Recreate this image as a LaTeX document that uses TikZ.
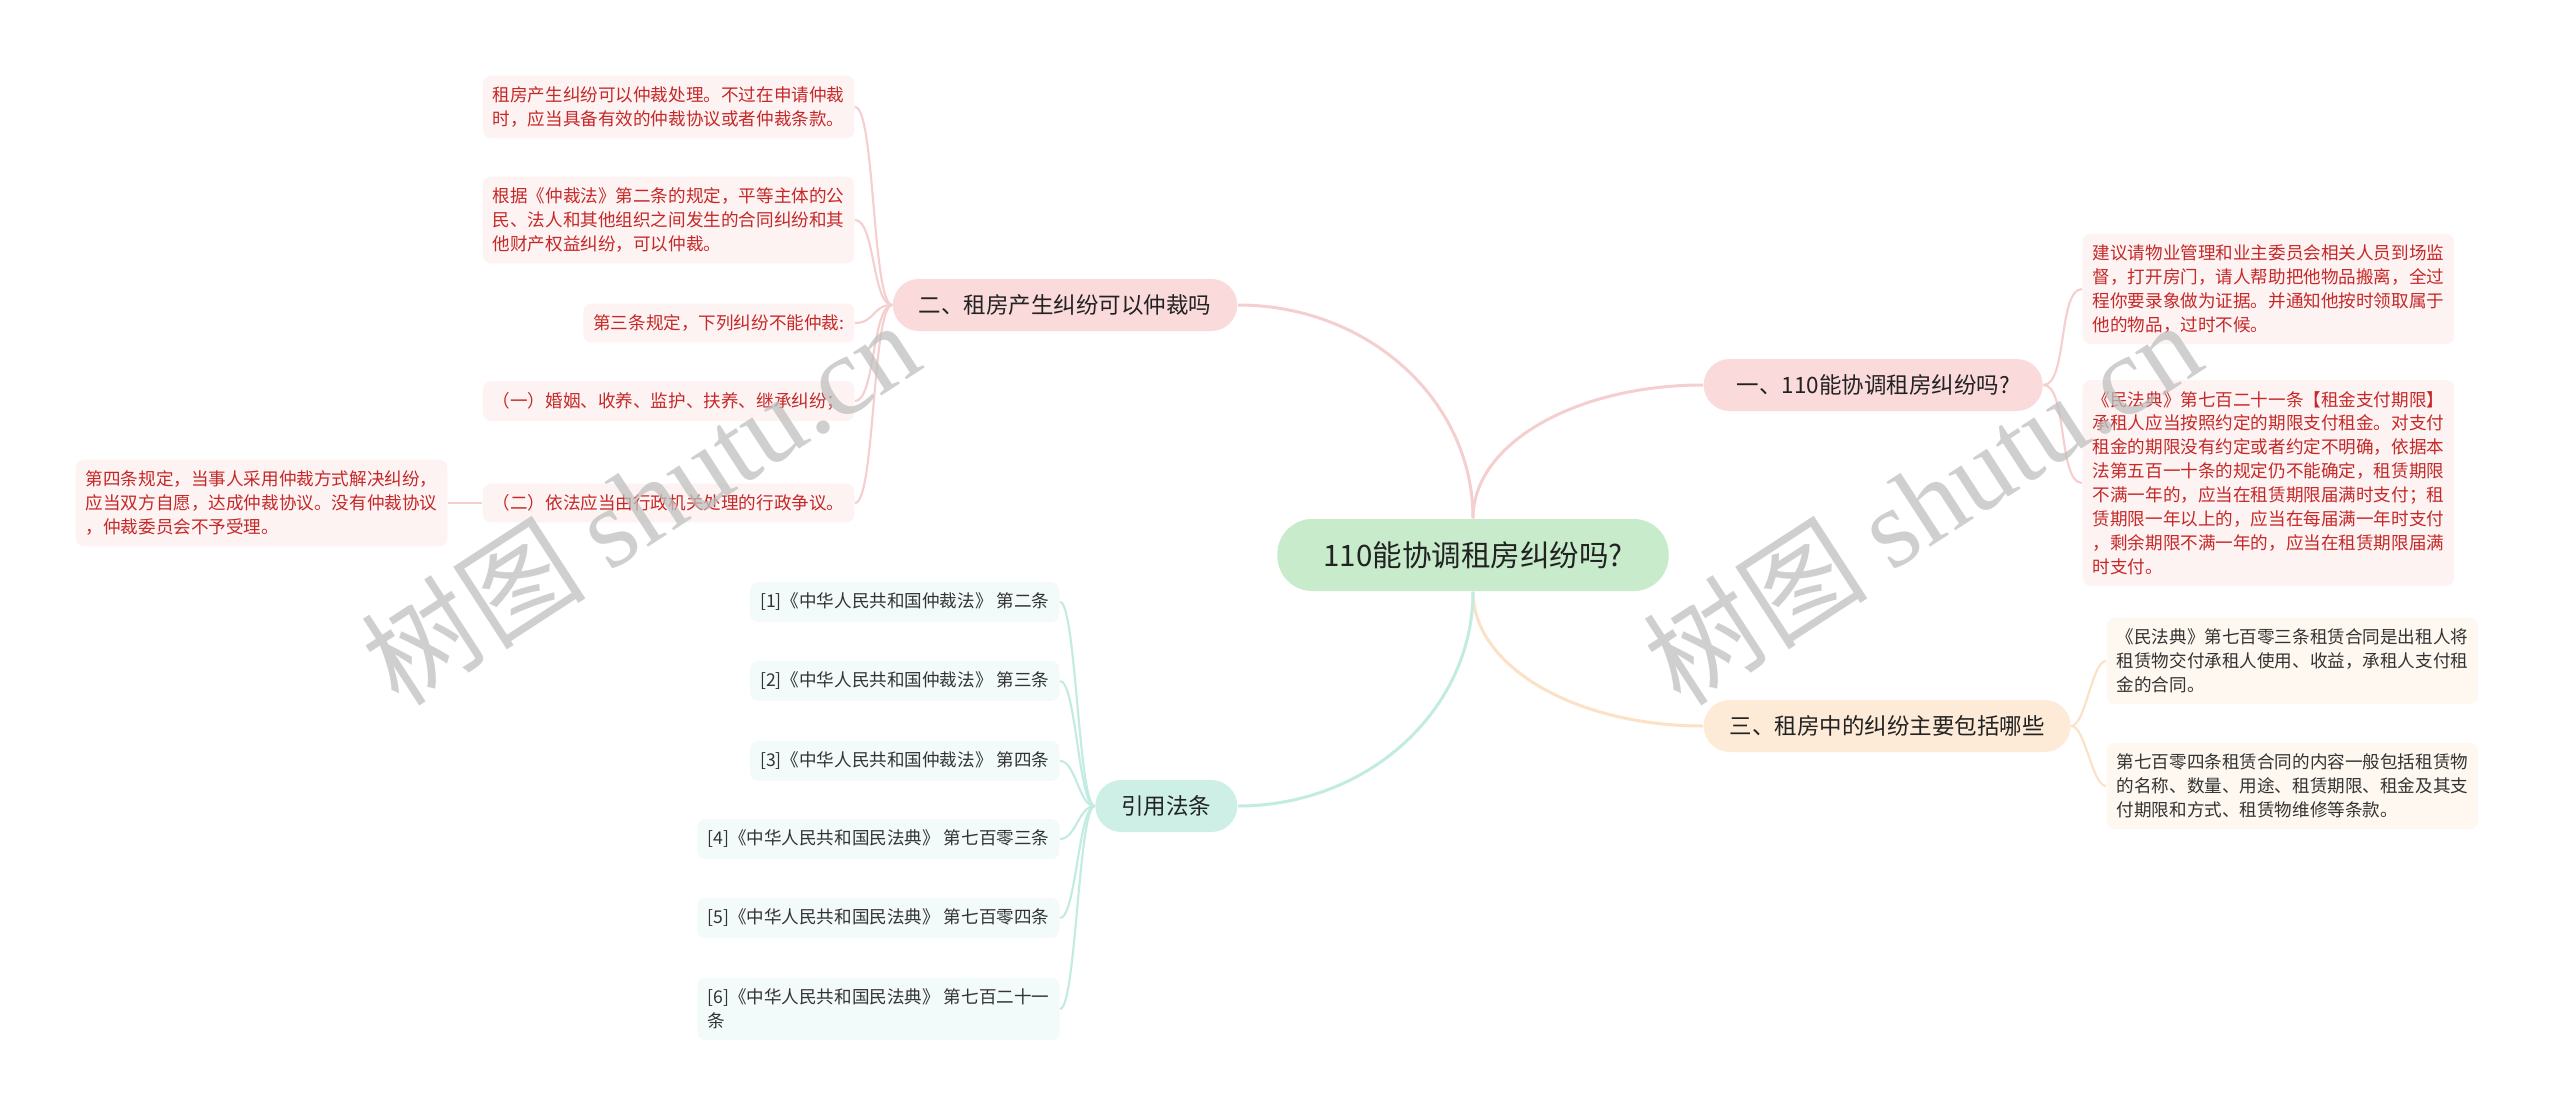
\documentclass[tikz,border=0pt]{standalone}
\usepackage{fontspec}
\setmainfont{Noto Sans CJK SC}
\newfontfamily\wmfont{Liberation Serif}
\usepackage{tikz}
\definecolor{rootbg}{HTML}{C8EBCC}
\definecolor{pinkbg}{HTML}{FADADA}
\definecolor{tanbg}{HTML}{FDEBD8}
\definecolor{tealbg}{HTML}{CDEFE6}
\definecolor{leafpink}{HTML}{FDF3F3}
\definecolor{leaftan}{HTML}{FEF8F0}
\definecolor{leafteal}{HTML}{F2FAFA}
\definecolor{leafred}{HTML}{C62828}
\definecolor{inkdark}{HTML}{222222}
\definecolor{inkgray}{HTML}{333333}
\definecolor{pinkline}{HTML}{F5CFCF}
\definecolor{tanline}{HTML}{FBE1C5}
\definecolor{tealline}{HTML}{C2EBE1}
\definecolor{wmgray}{HTML}{C0C0C0}
\tikzset{
  root/.style={fill=rootbg,text=inkdark,rounded corners=0.35cm,minimum height=0.72cm,
               inner xsep=0.46cm,inner ysep=0pt,font=\fontsize{8.4}{10}\selectfont},
  topic/.style={rounded corners=0.26cm,minimum height=0.52cm,inner xsep=0.26cm,
                inner ysep=0pt,text=inkdark,font=\fontsize{6.4}{8}\selectfont},
  pinktopic/.style={topic,fill=pinkbg},          % 一、二
  tantopic/.style={topic,fill=tanbg},            % 三
  tealtopic/.style={topic,fill=tealbg},          % 引用法条
  leaf/.style={rounded corners=0.08cm,inner xsep=0.1cm,inner ysep=0.11cm,align=left,
               font=\fontsize{5}{6.8}\selectfont},
  redleaf/.style={leaf,fill=leafpink,text=leafred},
  tanleaf/.style={leaf,fill=leaftan,text=inkgray},
  refleaf/.style={leaf,fill=leafteal,text=inkgray},
  pinklink/.style={draw=pinkline,line width=0.85pt},
  tanlink/.style={draw=tanline,line width=0.85pt},
  teallink/.style={draw=tealline,line width=0.85pt},
  pinktwig/.style={draw=pinkline,line width=0.6pt},
  tantwig/.style={draw=tanline,line width=0.6pt},
  tealtwig/.style={draw=tealline,line width=0.6pt},
  wm/.style={rotate=33,text=wmgray,text opacity=0.75,font=\fontsize{32}{32}\selectfont}
}

\begin{document}
\begin{tikzpicture}
  \fill[white] (0,0) rectangle (25.6,-11.17);
  \useasboundingbox (0,0) rectangle (25.6,-11.17);

  \node[root] (root) at (14.73,-5.55) {110能协调租房纠纷吗?};
  \node[pinktopic,anchor=east] (q2) at (12.38,-3.05) {二、租房产生纠纷可以仲裁吗};
  \node[pinktopic,anchor=west,inner xsep=0.33cm] (q1) at (17.03,-3.85) {一、110能协调租房纠纷吗?};
  \node[tantopic,anchor=west] (q3) at (17.03,-7.26) {三、租房中的纠纷主要包括哪些};
  \node[tealtopic,anchor=east] (refs) at (12.38,-8.06) {引用法条};

  % 二
  \node[redleaf,anchor=east] (a1) at (8.55,-1.07) {租房产生纠纷可以仲裁处理。不过在申请仲裁\\时，应当具备有效的仲裁协议或者仲裁条款。};
  \node[redleaf,anchor=east] (a2) at (8.55,-2.20) {根据《仲裁法》第二条的规定，平等主体的公\\民、法人和其他组织之间发生的合同纠纷和其\\他财产权益纠纷，可以仲裁。};
  \node[redleaf,anchor=east] (a3) at (8.55,-3.23) {第三条规定，下列纠纷不能仲裁:};
  \node[redleaf,anchor=east] (a4) at (8.55,-4.01) {（一）婚姻、收养、监护、扶养、继承纠纷；};
  \node[redleaf,anchor=east] (a5) at (8.55,-5.03) {（二）依法应当由行政机关处理的行政争议。};
  \node[redleaf,anchor=east] (a6) at (4.48,-5.03) {第四条规定，当事人采用仲裁方式解决纠纷，\\应当双方自愿，达成仲裁协议。没有仲裁协议\\，仲裁委员会不予受理。};

  % 一
  \node[redleaf,anchor=west] (b1) at (20.82,-2.89) {建议请物业管理和业主委员会相关人员到场监\\督，打开房门，请人帮助把他物品搬离，全过\\程你要录象做为证据。并通知他按时领取属于\\他的物品，过时不候。};
  \node[redleaf,anchor=west] (b2) at (20.82,-4.83) {《民法典》第七百二十一条【租金支付期限】\\承租人应当按照约定的期限支付租金。对支付\\租金的期限没有约定或者约定不明确，依据本\\法第五百一十条的规定仍不能确定，租赁期限\\不满一年的，应当在租赁期限届满时支付；租\\赁期限一年以上的，应当在每届满一年时支付\\，剩余期限不满一年的，应当在租赁期限届满\\时支付。};

  % 三
  \node[tanleaf,anchor=west] (c1) at (21.06,-6.61) {《民法典》第七百零三条租赁合同是出租人将\\租赁物交付承租人使用、收益，承租人支付租\\金的合同。};
  \node[tanleaf,anchor=west] (c2) at (21.06,-7.86) {第七百零四条租赁合同的内容一般包括租赁物\\的名称、数量、用途、租赁期限、租金及其支\\付期限和方式、租赁物维修等条款。};

  % 引用法条
  \node[refleaf,anchor=east] (r1) at (10.60,-6.02) {[1]《中华人民共和国仲裁法》 第二条};
  \node[refleaf,anchor=east] (r2) at (10.60,-6.81) {[2]《中华人民共和国仲裁法》 第三条};
  \node[refleaf,anchor=east] (r3) at (10.60,-7.61) {[3]《中华人民共和国仲裁法》 第四条};
  \node[refleaf,anchor=east] (r4) at (10.60,-8.39) {[4]《中华人民共和国民法典》 第七百零三条};
  \node[refleaf,anchor=east] (r5) at (10.60,-9.18) {[5]《中华人民共和国民法典》 第七百零四条};
  \node[refleaf,anchor=east] (r6) at (10.60,-10.09) {[6]《中华人民共和国民法典》 第七百二十一\\条};

  \draw[pinklink] (root.north) .. controls +(0,1.18) and +(1.3,0) .. (q2.east);
  \draw[pinklink] (root.north) .. controls +(0,0.75) and +(-1.27,0) .. (q1.west);
  \draw[tanlink] (root.south) .. controls +(0,-0.75) and +(-1.27,0) .. (q3.west);
  \draw[teallink] (root.south) .. controls +(0,-1.18) and +(1.3,0) .. (refs.east);

  \foreach \i in {1,...,5}
    \draw[pinktwig] (q2.west) .. controls +(-0.2,0) and +(0.2,0) .. (a\i.east);
  \draw[pinktwig] (a5.west) -- (a6.east);
  \foreach \i in {1,2}
    \draw[pinktwig] (q1.east) .. controls +(0.24,0) and +(-0.24,0) .. (b\i.west);
  \foreach \i in {1,2}
    \draw[tantwig] (q3.east) .. controls +(0.14,0) and +(-0.14,0) .. (c\i.west);
  \foreach \i in {1,...,6}
    \draw[tealtwig] (refs.west) .. controls +(-0.16,0) and +(0.16,0) .. (r\i.east);

  \node[wm] (wm1) at (6.40,-5.02) {树图 {\wmfont shutu.cn}};
  \node[wm] (wm2) at (19.22,-5.02) {树图 {\wmfont shutu.cn}};
\end{tikzpicture}
\end{document}
